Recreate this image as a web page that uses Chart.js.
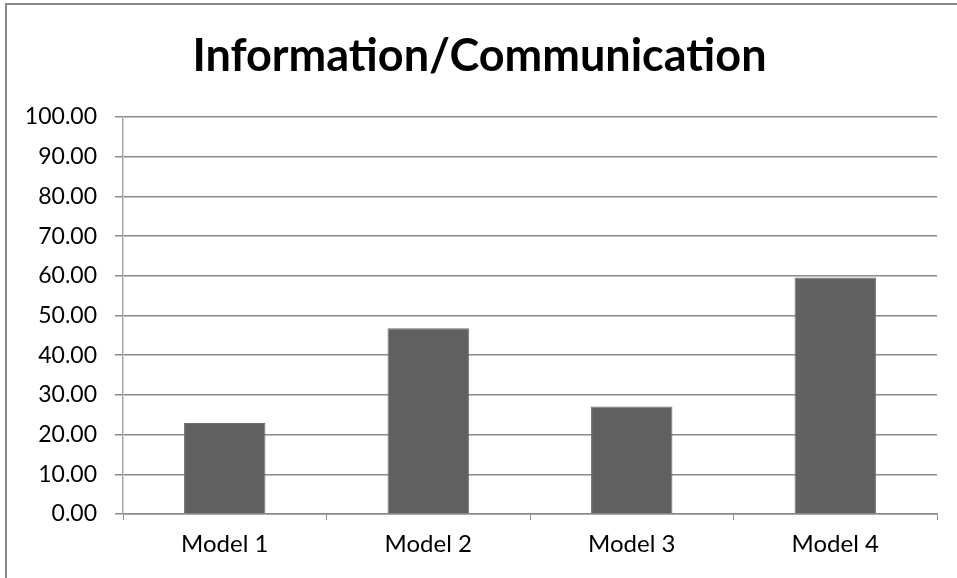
<!DOCTYPE html>
<html>
<head>
<meta charset="utf-8">
<script src="https://cdn.jsdelivr.net/npm/chart.js@4/dist/chart.umd.min.js"></script>
<style>
  html, body { margin: 0; padding: 0; background: #fff; overflow: hidden; }
  #frame { position: absolute; left: 5px; top: 3px; width: 1000px; height: 620px; border: 2px solid #8a8a8a; }
  #wrap { position: absolute; left: 0; top: 0; width: 957px; height: 578px; }
</style>
</head>
<body>
<div id="frame"></div>
<div id="wrap"><canvas id="chart"></canvas></div>
<script>
const title = 'Information/Communication'
const models = ['Model 1', 'Model 2', 'Model 3', 'Model 4']
const scores = [22.9, 46.8, 27.1, 59.6]

const gridGray = '#8a8a8a'
const font = 'Lato'

new Chart(document.getElementById('chart'), {
  type: 'bar',
  data: {
    labels: models,
    datasets: [{
      label: title,
      data: scores,
      backgroundColor: '#606060',
      borderColor: '#6e6e6e',
      borderWidth: 1,
      barPercentage: 0.4,
      categoryPercentage: 1
    }]
  },
  options: {
    responsive: true,
    maintainAspectRatio: false,
    animation: false,
    layout: { padding: { left: 22, right: 20, top: 0, bottom: 0 } },
    plugins: {
      legend: { display: false },
      tooltip: { enabled: false },
      title: {
        display: true,
        text: title,
        color: '#000',
        font: { family: font, size: 45, weight: 'bold' },
        padding: { top: 29, bottom: 34 }
      }
    },
    scales: {
      x: {
        grid: { drawOnChartArea: false, drawTicks: true, tickLength: 6, offset: true, color: gridGray },
        border: { display: true, color: gridGray, width: 1.5 },
        ticks: { color: '#000', font: { family: font, size: 24 }, padding: 10 },
        afterFit: s => { s.height = 64 }
      },
      y: {
        min: 0,
        max: 100,
        grid: { color: gridGray, lineWidth: 1.5, tickLength: 8 },
        border: { display: true, color: '#a6a6a6', width: 1.5 },
        ticks: {
          stepSize: 10,
          color: '#000',
          font: { family: font, size: 23 },
          padding: 18,
          callback: v => v.toFixed(2)
        },
        afterFit: s => { s.width = 101 }
      }
    }
  }
})
</script>
</body>
</html>
